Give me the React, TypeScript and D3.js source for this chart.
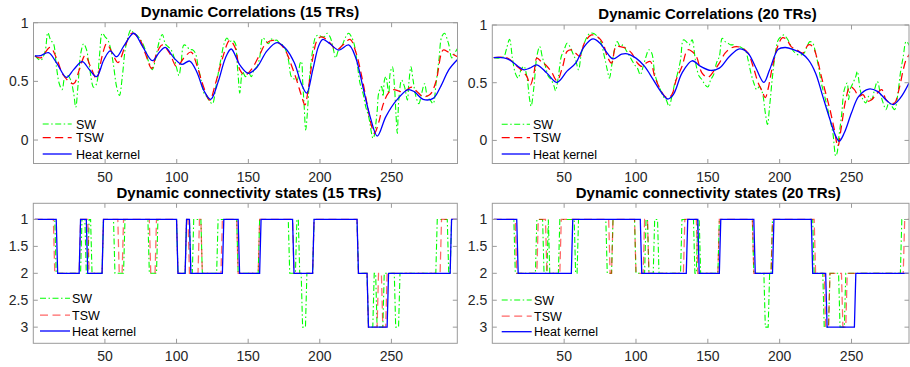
import React from 'react'
import * as d3 from 'd3'

type Pt = [number, number]
type Run = [number, number, number]

// ---- shared ticks / labels ----
const xTicks = [50, 100, 150, 200, 250]
const corrTicks = [0, 0.5, 1]
const stateTicks = [1, 1.5, 2, 2.5, 3]
const legendNames = ['SW', 'TSW', 'Heat kernel']

// ---- dynamic correlations, 15 TRs window: [TR, r] ----
const sw15: Pt[] = [[1,0.72],[5,0.68],[8,0.75],[10,0.915],[12,0.85],[14,0.82],[16,0.625],[18,0.48],[20,0.43],[22,0.54],[24,0.55],[26,0.51],[28,0.40],[29.5,0.28],[31,0.455],[33,0.74],[35,0.82],[37,0.77],[39,0.625],[42,0.45],[44,0.48],[46,0.71],[48,0.91],[50,0.88],[52,0.85],[54,0.77],[56,0.625],[58,0.455],[60,0.38],[62,0.54],[64,0.77],[66,0.88],[68,0.94],[70,0.91],[72,0.895],[75,0.85],[78,0.77],[80,0.68],[81,0.65],[83,0.6],[85,0.68],[88,0.85],[90,0.9],[92,0.82],[94,0.795],[96,0.77],[98,0.71],[100,0.61],[101.5,0.55],[103,0.65],[105,0.81],[107,0.8],[109,0.77],[111,0.77],[113,0.74],[115,0.625],[117,0.51],[119,0.4],[121,0.37],[123,0.33],[125,0.31],[127,0.43],[129,0.57],[131,0.70],[133,0.82],[135,0.87],[137,0.84],[139,0.85],[141,0.82],[142,0.68],[143,0.53],[144,0.40],[146,0.58],[148,0.54],[150,0.58],[152,0.54],[154,0.6],[156,0.625],[158,0.71],[160,0.87],[162,0.85],[164,0.82],[166,0.86],[168,0.85],[170,0.85],[172,0.82],[174,0.81],[176,0.77],[178,0.68],[180,0.54],[182,0.52],[184,0.51],[186,0.65],[187,0.67],[188,0.48],[189,0.28],[190,0.085],[191,0.2],[193,0.57],[195,0.77],[197,0.88],[199,0.895],[201,0.88],[203,0.88],[205,0.91],[207,0.88],[209,0.795],[211,0.7],[213,0.77],[215,0.795],[218,0.88],[220,0.91],[222,0.88],[224,0.81],[226,0.65],[228,0.48],[230,0.4],[232,0.28],[234,0.2],[236,0.057],[237,0.014],[238,0.043],[239,0.14],[240,0.256],[241,0.4],[243,0.455],[244,0.37],[245,0.51],[246,0.54],[248,0.4],[249,0.57],[250.5,0.625],[252,0.455],[253,0.23],[254,0.057],[255,0.34],[257,0.51],[259,0.455],[261,0.34],[262,0.48],[263.5,0.625],[265,0.51],[267,0.37],[269,0.31],[271,0.4],[273,0.48],[275,0.37],[277,0.34],[279,0.31],[281,0.48],[283,0.68],[285,0.88],[287,0.91],[289,0.85],[290,0.81],[292,0.70],[294,0.74],[296,0.78]]
const tsw15: Pt[] = [[1,0.716],[5,0.70],[11.6,0.79],[16,0.7],[21,0.55],[28,0.48],[32,0.6],[36,0.72],[40,0.62],[44,0.525],[48,0.72],[51,0.82],[55,0.74],[59,0.66],[64,0.8],[68.6,0.91],[74,0.86],[78,0.74],[82.5,0.61],[86,0.74],[90,0.81],[95,0.74],[100,0.625],[105,0.7],[110,0.75],[114,0.64],[118,0.48],[123,0.34],[127,0.48],[132,0.7],[137,0.85],[141,0.78],[144,0.6],[147.7,0.554],[152,0.6],[158,0.73],[162,0.82],[167,0.85],[172,0.82],[176,0.76],[180,0.64],[184,0.5],[187,0.38],[189.5,0.30],[192,0.45],[195,0.7],[198,0.85],[201,0.88],[206,0.84],[211.6,0.77],[216,0.81],[221,0.858],[225,0.75],[229,0.55],[233,0.3],[236,0.12],[238,0.057],[241,0.15],[244,0.3],[247.7,0.4],[251,0.43],[258,0.41],[264,0.45],[268,0.41],[272,0.37],[277,0.39],[281,0.5],[286,0.767],[289.5,0.75],[296,0.71]]
const hk15: Pt[] = [[1,0.716],[5,0.72],[10.5,0.744],[16,0.66],[23,0.534],[28,0.6],[34,0.668],[39,0.6],[44,0.54],[49,0.68],[53.5,0.76],[58,0.71],[63,0.8],[70,0.91],[76,0.8],[83,0.676],[88,0.75],[92,0.79],[98,0.7],[103.5,0.645],[109,0.673],[114,0.58],[119,0.42],[123.7,0.347],[129,0.5],[134,0.7],[138,0.776],[144,0.64],[150,0.568],[156,0.62],[163,0.76],[170,0.83],[176,0.78],[182,0.66],[187,0.48],[190.7,0.40],[195,0.6],[199,0.8],[202,0.858],[207,0.82],[213,0.767],[220,0.81],[225,0.7],[230,0.45],[235,0.2],[240,0.034],[246,0.2],[253.5,0.34],[261.6,0.43],[266,0.41],[272,0.347],[279,0.355],[284,0.45],[290,0.6],[296,0.687]]

// ---- dynamic correlations, 20 TRs window ----
const sw20: Pt[] = [[1,0.718],[4,0.713],[8,0.727],[10,0.799],[12,0.876],[14,0.713],[16,0.583],[18,0.54],[20,0.612],[22,0.641],[24,0.555],[26,0.353],[27,0.296],[29,0.468],[31,0.727],[33,0.813],[35,0.713],[37,0.641],[39,0.555],[41,0.526],[43,0.468],[44,0.43],[46,0.555],[48,0.727],[50,0.784],[52,0.842],[54,0.813],[56,0.756],[58,0.698],[60,0.612],[62,0.756],[64,0.842],[66,0.899],[68,0.928],[70,0.928],[72,0.914],[75,0.871],[78,0.727],[80,0.612],[81.5,0.54],[83,0.641],[85,0.784],[87,0.856],[89,0.813],[91,0.828],[93,0.784],[95,0.741],[97,0.698],[99,0.655],[101,0.626],[103,0.569],[105,0.641],[107,0.727],[109,0.785],[111,0.756],[113,0.583],[115,0.497],[117,0.44],[119,0.382],[121,0.353],[123,0.296],[125,0.382],[127,0.497],[129,0.583],[131,0.698],[133,0.871],[135,0.856],[137,0.828],[139,0.871],[141,0.727],[142,0.641],[144,0.555],[146,0.526],[148,0.483],[150,0.463],[152,0.526],[154,0.569],[156,0.67],[158,0.727],[160,0.885],[162,0.856],[164,0.842],[166,0.828],[168,0.828],[170,0.813],[172,0.813],[174,0.799],[176,0.784],[178,0.698],[180,0.583],[182,0.497],[184,0.44],[186,0.468],[188,0.411],[190,0.239],[191.5,0.138],[193,0.296],[195,0.555],[197,0.756],[199,0.871],[201,0.899],[203,0.914],[205,0.885],[207,0.842],[209,0.784],[211,0.756],[213,0.741],[215,0.741],[217,0.756],[219,0.813],[221,0.856],[223,0.842],[225,0.756],[227,0.641],[229,0.497],[231,0.397],[233,0.296],[235,0.181],[237,0.066],[239,-0.135],[240,-0.106],[241,0.009],[243,0.21],[245,0.44],[247,0.497],[248,0.353],[249,0.44],[251,0.497],[253,0.555],[254,0.598],[256,0.44],[258,0.353],[260,0.325],[262,0.382],[264,0.353],[266,0.44],[268,0.51],[270,0.411],[272,0.325],[274,0.267],[276,0.325],[278,0.296],[280,0.267],[282,0.382],[284,0.583],[286,0.727],[288,0.856],[290,0.828],[291,0.784]]
const tsw20: Pt[] = [[1,0.718],[8,0.721],[12,0.704],[16,0.655],[20,0.612],[24,0.555],[26.5,0.48],[29,0.583],[31,0.713],[34,0.684],[37,0.655],[41,0.598],[45,0.517],[49,0.641],[52,0.77],[55,0.784],[58,0.756],[61,0.727],[64,0.842],[69,0.914],[73,0.899],[77,0.842],[80,0.727],[83,0.67],[86,0.813],[89,0.813],[93,0.799],[97,0.756],[101,0.67],[104,0.641],[107,0.67],[110,0.684],[113,0.555],[117,0.44],[120,0.382],[122,0.368],[125,0.397],[128,0.526],[132,0.641],[136,0.785],[139,0.77],[142,0.727],[146,0.583],[150,0.546],[154,0.598],[158,0.67],[162,0.756],[166,0.799],[170,0.813],[174,0.799],[178,0.756],[182,0.62],[185,0.5],[188,0.42],[190,0.37],[192,0.45],[195,0.641],[199,0.828],[202,0.891],[205,0.871],[208,0.813],[212,0.784],[216,0.756],[220,0.828],[223,0.813],[226,0.713],[229,0.555],[232,0.411],[235,0.267],[238,0.095],[240.5,-0.05],[243,0.124],[246,0.353],[249,0.468],[252,0.44],[255,0.382],[258,0.397],[261,0.339],[264,0.353],[268,0.411],[271,0.44],[274,0.353],[277,0.325],[280,0.325],[283,0.44],[286,0.612],[288,0.698],[291,0.756]]
const hk20: Pt[] = [[1,0.718],[8,0.716],[12,0.698],[18,0.641],[22,0.612],[26,0.626],[31,0.655],[38,0.583],[45,0.503],[52,0.6],[58,0.67],[64,0.813],[70,0.879],[75,0.842],[80,0.756],[84,0.707],[90,0.747],[94,0.75],[100,0.713],[106,0.641],[112,0.526],[118,0.411],[122,0.359],[126,0.397],[132,0.583],[139,0.69],[145,0.641],[152,0.606],[158,0.626],[165,0.727],[172,0.793],[178,0.756],[183,0.641],[189,0.503],[193,0.612],[199,0.79],[204,0.805],[210,0.784],[215,0.756],[220,0.698],[225,0.583],[230,0.382],[235,0.181],[239,0.037],[241.5,-0.006],[245,0.066],[250,0.239],[255,0.382],[262,0.445],[268,0.425],[275,0.339],[279,0.31],[284,0.368],[290,0.497]]

// ---- connectivity states: [first TR, last TR, state] ----
const swState15: Run[] = [[1,15,1],[16,33,2],[34,36,1],[37,38,2],[39,40,1],[41,48,2],[49,56,1],[57,63,2],[64,80,1],[81,86,2],[87,100,1],[101,106,2],[107,109,1],[110,111,2],[112,117,1],[118,128,2],[129,142,1],[143,157,2],[158,178,1],[179,183,2],[184,185,1],[186,187,2],[188,190,3],[191,195,2],[196,226,1],[227,233,2],[234,237,3],[238,239,2],[240,244,3],[245,252,2],[253,255,3],[256,281,2],[282,289,1],[290,291,2],[292,296,1]]
const tswState15: Run[] = [[1,14,1],[15,32,2],[33,38,1],[39,48,2],[49,59,1],[60,62,2],[63,81,1],[82,85,2],[86,100,1],[101,106,2],[107,108,1],[109,115,2],[116,117,1],[118,131,2],[132,142,1],[143,157,2],[158,181,1],[182,195,2],[196,226,1],[227,233,2],[234,240,3],[241,243,2],[244,246,3],[247,284,2],[285,296,1]]
const hkState15: Run[] = [[1,16,1],[17,32,2],[33,37,1],[38,48,2],[49,100,1],[101,106,2],[107,109,1],[110,132,2],[133,143,1],[144,158,2],[159,181,1],[182,195,2],[196,226,1],[227,233,2],[234,247,3],[248,291,2],[292,296,1]]

const swState20: Run[] = [[1,15,1],[16,30,2],[31,35,1],[36,38,2],[39,39,1],[40,46,2],[47,57,1],[58,59,2],[60,79,1],[80,83,2],[84,99,1],[100,106,2],[107,108,1],[109,112,2],[113,115,1],[116,131,2],[132,140,1],[141,142,2],[143,144,1],[145,157,2],[158,181,1],[182,189,2],[190,192,3],[193,194,2],[195,223,1],[224,230,2],[231,234,3],[235,241,2],[242,245,3],[246,284,2],[285,291,1]]
const tswState20: Run[] = [[1,16,1],[17,31,2],[32,37,1],[38,47,2],[48,81,1],[82,83,2],[84,99,1],[100,105,2],[106,108,1],[109,133,2],[134,142,1],[143,157,2],[158,181,1],[182,194,2],[195,224,1],[225,231,2],[232,234,3],[235,243,2],[244,246,3],[247,286,2],[287,291,1]]
const hkState20: Run[] = [[1,17,1],[18,55,2],[56,103,1],[104,135,2],[136,143,1],[144,158,2],[159,182,1],[183,195,2],[196,222,1],[223,232,2],[233,252,3],[253,291,2]]

const SERIES_STYLE = [
  { color: '#00ff00', dash: '6,2.5,1.5,2.5', width: 1.1 },
  { color: '#ff0000', dash: '8,4.5', width: 1.25 },
  { color: '#0000ff', dash: undefined, width: 1.3 },
]

const runsToPoints = (runs: Run[]): Pt[] =>
  runs.flatMap(([a, b, s]) => [[a, s], [b, s]] as Pt[])

interface PanelProps {
  title: string
  titleX: number
  titleY: number
  box: { x0: number; x1: number; y0: number; y1: number }
  xMax: number
  yDomain: [number, number]
  yTicks: number[]
  yFormat: (v: number) => string
  series: Pt[][]
  smooth: boolean
  redOpacity: number
  legend: { x0: number; x1: number; tx: number; ys: number[] }
}

const Panel: React.FC<PanelProps> = ({ title, titleX, titleY, box, xMax, yDomain, yTicks, yFormat, series, smooth, redOpacity, legend }) => {
  const x = d3.scaleLinear().domain([0, xMax]).range([box.x0, box.x1])
  const y = d3.scaleLinear().domain(yDomain).range([box.y1, box.y0])
  const line = d3.line<Pt>()
    .x(d => x(d[0]))
    .y(d => y(d[1]))
    .curve(smooth ? d3.curveCatmullRom.alpha(0.5) : d3.curveLinear)
  const clipId = `clip-${Math.round(box.x0)}-${Math.round(box.y0)}`
  const tick = 4.5
  const axisColor = '#9a9a9a'
  const tickText = '#262626'

  return (
    <g>
      <defs>
        <clipPath id={clipId}>
          <rect x={box.x0} y={box.y0} width={box.x1 - box.x0} height={box.y1 - box.y0} />
        </clipPath>
      </defs>
      <rect x={box.x0} y={box.y0} width={box.x1 - box.x0} height={box.y1 - box.y0} fill="#fff" />

      <g clipPath={`url(#${clipId})`}>
        {series.map((pts, i) => (
          <path
            key={i}
            d={line(pts) || ''}
            fill="none"
            stroke={SERIES_STYLE[i].color}
            strokeWidth={SERIES_STYLE[i].width}
            strokeDasharray={SERIES_STYLE[i].dash}
            strokeOpacity={i === 1 ? redOpacity : 1}
          />
        ))}
      </g>

      {/* box + ticks */}
      <rect x={box.x0} y={box.y0} width={box.x1 - box.x0} height={box.y1 - box.y0} fill="none" stroke={axisColor} strokeWidth={1} />
      {xTicks.map(t => (
        <g key={`x${t}`}>
          <line x1={x(t)} x2={x(t)} y1={box.y1} y2={box.y1 - tick} stroke={axisColor} />
          <line x1={x(t)} x2={x(t)} y1={box.y0} y2={box.y0 + tick} stroke={axisColor} />
          <text x={x(t)} y={box.y1 + 18} textAnchor="middle" fontSize={14} fill={tickText}>{t}</text>
        </g>
      ))}
      {yTicks.map(t => (
        <g key={`y${t}`}>
          <line x1={box.x0} x2={box.x0 + tick} y1={y(t)} y2={y(t)} stroke={axisColor} />
          <line x1={box.x1} x2={box.x1 - tick} y1={y(t)} y2={y(t)} stroke={axisColor} />
          <text x={box.x0 - 5} y={y(t)} dy="0.36em" textAnchor="end" fontSize={14} fill={tickText}>{yFormat(t)}</text>
        </g>
      ))}

      <text x={titleX} y={titleY} textAnchor="middle" fontSize={15} fontWeight="bold" fill="#000">{title}</text>

      {/* legend */}
      {legendNames.map((name, i) => (
        <g key={name}>
          <line
            x1={legend.x0} x2={legend.x1} y1={legend.ys[i]} y2={legend.ys[i]}
            stroke={SERIES_STYLE[i].color}
            strokeWidth={SERIES_STYLE[i].width}
            strokeDasharray={SERIES_STYLE[i].dash}
            strokeOpacity={i === 1 ? redOpacity : 1}
          />
          <text x={legend.tx} y={legend.ys[i]} dy="0.36em" fontSize={12.5} fill="#000">{name}</text>
        </g>
      ))}
    </g>
  )
}

const fmt = (v: number) => String(v)

export default function App() {
  return (
    <div style={{ position: 'absolute', left: 0, top: 0 }}>
      <svg width={910} height={367} style={{ display: 'block', fontFamily: '"Liberation Sans", Arial, Helvetica, sans-serif' }}>
        <rect width={910} height={367} fill="#fff" />
        <Panel
          title="Dynamic Correlations (15 TRs)" titleX={250} titleY={17}
          box={{ x0: 33.5, x1: 457.5, y0: 22.7, y1: 163.5 }}
          xMax={296} yDomain={[-0.2, 1]} yTicks={corrTicks} yFormat={fmt}
          series={[sw15, tsw15, hk15]} smooth redOpacity={1}
          legend={{ x0: 42.7, x1: 71.7, tx: 76, ys: [124, 137.5, 154] }}
        />
        <Panel
          title="Dynamic Correlations (20 TRs)" titleX={707.5} titleY={19}
          box={{ x0: 492.3, x1: 909, y0: 25, y1: 163.5 }}
          xMax={290} yDomain={[-0.2, 1]} yTicks={corrTicks} yFormat={fmt}
          series={[sw20, tsw20, hk20]} smooth redOpacity={1}
          legend={{ x0: 501.7, x1: 530, tx: 533, ys: [124.3, 137.7, 154] }}
        />
        <Panel
          title="Dynamic connectivity states (15 TRs)" titleX={249} titleY={198}
          box={{ x0: 33.3, x1: 457.3, y0: 203.3, y1: 343.3 }}
          xMax={296} yDomain={[3.3, 0.7]} yTicks={stateTicks} yFormat={fmt}
          series={[runsToPoints(swState15), runsToPoints(tswState15), runsToPoints(hkState15)]} smooth={false} redOpacity={0.6}
          legend={{ x0: 40, x1: 70, tx: 72, ys: [298.3, 315, 331] }}
        />
        <Panel
          title="Dynamic connectivity states (20 TRs)" titleX={708.3} titleY={198}
          box={{ x0: 492.3, x1: 909, y0: 203.3, y1: 343.3 }}
          xMax={290} yDomain={[3.3, 0.7]} yTicks={stateTicks} yFormat={fmt}
          series={[runsToPoints(swState20), runsToPoints(tswState20), runsToPoints(hkState20)]} smooth={false} redOpacity={0.6}
          legend={{ x0: 501.7, x1: 531.7, tx: 534, ys: [300, 316, 331.7] }}
        />
      </svg>
    </div>
  )
}
